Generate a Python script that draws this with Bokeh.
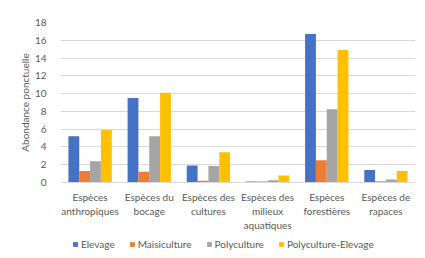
from bokeh.plotting import figure
from bokeh.layouts import column
from bokeh.models import Range1d, FactorRange, Legend, LegendItem
from bokeh.transform import dodge
from bokeh.embed import file_html
from bokeh.resources import INLINE

categories = ["Espèces\nanthropiques", "Espèces du\nbocage", "Espèces des\ncultures",
              "Espèces des\nmilieux\naquatiques", "Espèces\nforestières", "Espèces de\nrapaces"]
series_names = ["Elevage", "Maisiculture", "Polyculture", "Polyculture-Elevage"]
elevage = [5.2, 9.5, 1.9, 0.1, 16.7, 1.4]
maisiculture = [1.3, 1.2, 0.2, 0.1, 2.5, 0.15]
polyculture = [2.4, 5.2, 1.85, 0.25, 8.25, 0.35]
polyculture_elevage = [5.9, 10.1, 3.4, 0.8, 14.9, 1.3]
y_ticks = [0, 2, 4, 6, 8, 10, 12, 14, 16, 18]

colors = ["#4472C4", "#ED7D31", "#A5A5A5", "#FFC000"]
FONT = "Lato"
TXT = "#595959"

data = dict(cat=categories, Elevage=elevage, Maisiculture=maisiculture,
            Polyculture=polyculture, PolycultureElevage=polyculture_elevage)
cols = ["Elevage", "Maisiculture", "Polyculture", "PolycultureElevage"]

p = figure(x_range=FactorRange(*categories, range_padding=0), y_range=Range1d(0, 18),
           width=417, height=234, output_backend="svg", toolbar_location=None,
           min_border_left=60, min_border_top=22, min_border_right=2, min_border_bottom=52)

bw = 0.183
offsets = [-1.5 * bw, -0.5 * bw, 0.5 * bw, 1.5 * bw]
for col, off, c in zip(cols, offsets, colors):
    p.vbar(x=dodge("cat", off, range=p.x_range), top=col, width=bw, source=data,
           fill_color=c, line_color=None)

p.outline_line_color = None
p.xgrid.grid_line_color = None
p.ygrid.grid_line_color = "#d9d9d9"
p.yaxis.ticker = y_ticks
p.yaxis.axis_line_color = None
p.yaxis.major_tick_line_color = None
p.yaxis.minor_tick_line_color = None
p.yaxis.major_label_standoff = 8
p.yaxis.axis_label = "Abondance ponctuelle"
p.yaxis.axis_label_text_font_style = "normal"
p.yaxis.axis_label_standoff = 1
for ax in [p.xaxis, p.yaxis]:
    ax.major_label_text_font = FONT
    ax.major_label_text_font_size = "10px"
    ax.major_label_text_color = TXT
    ax.axis_label_text_font = FONT
    ax.axis_label_text_font_size = "10px"
    ax.axis_label_text_color = TXT
p.xaxis.axis_line_color = "#d9d9d9"
p.xaxis.major_tick_line_color = None
p.xaxis.minor_tick_line_color = None
p.xaxis.major_label_standoff = 2

# legend strip (its frame is aligned with the main plot's frame by the column)
lf = figure(width=417, height=16, output_backend="svg", toolbar_location=None,
            x_range=Range1d(0, 1), y_range=Range1d(0, 1), min_border=0)
lf.axis.visible = False
lf.grid.visible = False
lf.outline_line_color = None
lrs = []
for c in colors:
    # zero-height proxy bar, only used as a legend swatch
    lrs.append(lf.vbar(x=[0], top=[0], bottom=[0], width=0.0, fill_color=c, line_color=None))
legend = Legend(items=[LegendItem(label=n, renderers=[r]) for n, r in zip(series_names, lrs)],
                orientation="horizontal", location=(12, 0),
                glyph_width=6, glyph_height=6, label_standoff=3, spacing=14,
                label_height=10,
                label_text_font=FONT, label_text_font_size="10px", label_text_color=TXT,
                border_line_color=None, background_fill_alpha=0, margin=0, padding=0)
lf.add_layout(legend, "center")

layout = column(p, lf, spacing=0)
open("out.html", "w").write(file_html(layout, INLINE))
